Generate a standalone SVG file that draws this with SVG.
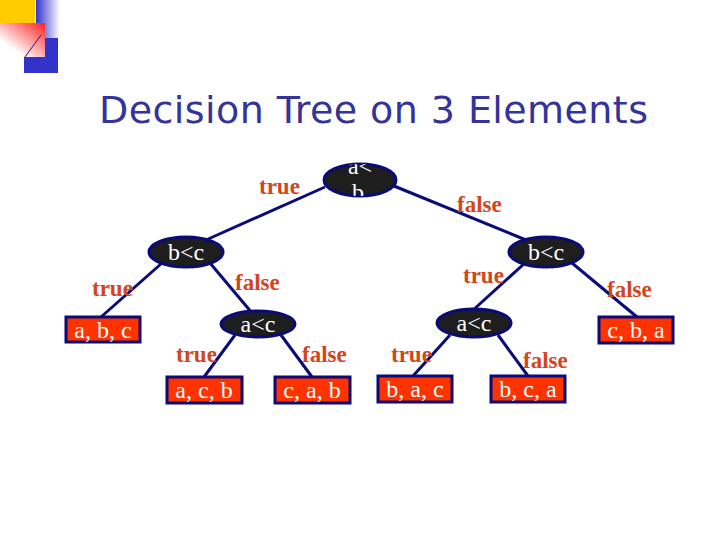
<svg xmlns="http://www.w3.org/2000/svg" width="720" height="540" viewBox="0 0 720 540">
<defs>
<linearGradient id="gBlue" x1="0" y1="0" x2="1" y2="0">
<stop offset="0" stop-color="#3333cc"/>
<stop offset="1" stop-color="#ffffff"/>
</linearGradient>
<linearGradient id="gRed" x1="1" y1="0" x2="0" y2="1">
<stop offset="0" stop-color="#ff2020"/>
<stop offset="0.75" stop-color="#ffffff"/>
</linearGradient>
<clipPath id="rootClip"><ellipse cx="360" cy="180" rx="36" ry="16"/></clipPath>
<style>
.dec{fill:#1e1e1e;stroke:#0a0a78;stroke-width:3}
.leaf{fill:#ff3300;stroke:#0a0a78;stroke-width:3}
.edge{stroke:#0a0a78;stroke-width:3;fill:none}
.nt{font-family:"Liberation Serif",serif;font-size:24px;fill:#ffffff;text-anchor:middle}
.lbl{font-family:"Liberation Serif",serif;font-size:23px;font-weight:bold;fill:#d2461e}
.title{font-family:"DejaVu Sans",sans-serif;font-size:38px;fill:#333399}
</style>
</defs>
<rect width="720" height="540" fill="#ffffff"/>
<g id="logo">
<rect x="0" y="0" width="35" height="23" fill="#ffcc00"/>
<rect x="36" y="0" width="24" height="38" fill="url(#gBlue)"/>
<rect x="24" y="38" width="34" height="35" fill="#3333cc"/>
<rect x="0" y="23" width="45" height="34" fill="url(#gRed)"/>
<line x1="25" y1="57" x2="41" y2="35" stroke="#301060" stroke-width="1"/>
</g>
<text class="title" x="99" y="123" textLength="549" lengthAdjust="spacing">Decision Tree on 3 Elements</text>
<g id="connectors">
<line class="edge" x1="325" y1="187" x2="206" y2="240"/>
<line class="edge" x1="394" y1="186" x2="526" y2="240"/>
<line class="edge" x1="162" y1="263" x2="101" y2="317"/>
<line class="edge" x1="210" y1="263" x2="252" y2="313"/>
<line class="edge" x1="525" y1="263" x2="472" y2="311"/>
<line class="edge" x1="572" y1="263" x2="637" y2="317"/>
<line class="edge" x1="235" y1="335" x2="204" y2="377"/>
<line class="edge" x1="281" y1="335" x2="312" y2="377"/>
<line class="edge" x1="450" y1="335" x2="413" y2="376"/>
<line class="edge" x1="498" y1="335" x2="528" y2="376"/>
</g>
<g id="root">
<ellipse class="dec" cx="360" cy="180" rx="36" ry="16"/>
<g clip-path="url(#rootClip)">
<text class="nt" x="360" y="174">a&lt;</text>
<text class="nt" x="358" y="200">b</text>
</g>
</g>
<g id="bc-left">
<ellipse class="dec" cx="186" cy="252" rx="37" ry="15"/>
<text class="nt" x="186" y="260">b&lt;c</text>
</g>
<g id="bc-right">
<ellipse class="dec" cx="546" cy="252" rx="37" ry="15"/>
<text class="nt" x="546" y="260">b&lt;c</text>
</g>
<g id="ac-left">
<ellipse class="dec" cx="258" cy="324" rx="37" ry="13"/>
<text class="nt" x="258" y="332">a&lt;c</text>
</g>
<g id="ac-right">
<ellipse class="dec" cx="474" cy="323" rx="37" ry="14"/>
<text class="nt" x="474" y="331">a&lt;c</text>
</g>
<g id="leaf-abc">
<rect class="leaf" x="66" y="317" width="74" height="25"/>
<text class="nt" x="103" y="338">a, b, c</text>
</g>
<g id="leaf-cba">
<rect class="leaf" x="599" y="317" width="74" height="26"/>
<text class="nt" x="636" y="338">c, b, a</text>
</g>
<g id="leaf-acb">
<rect class="leaf" x="167" y="377" width="75" height="26"/>
<text class="nt" x="204" y="398">a, c, b</text>
</g>
<g id="leaf-cab">
<rect class="leaf" x="275" y="377" width="75" height="26"/>
<text class="nt" x="312" y="398">c, a, b</text>
</g>
<g id="leaf-bac">
<rect class="leaf" x="378" y="376" width="74" height="26"/>
<text class="nt" x="415" y="397">b, a, c</text>
</g>
<g id="leaf-bca">
<rect class="leaf" x="491" y="376" width="74" height="26"/>
<text class="nt" x="528" y="397">b, c, a</text>
</g>
<g id="labels">
<text class="lbl" x="259" y="194">true</text>
<text class="lbl" x="457" y="212">false</text>
<text class="lbl" x="92" y="296">true</text>
<text class="lbl" x="235" y="290">false</text>
<text class="lbl" x="463" y="283">true</text>
<text class="lbl" x="607" y="297">false</text>
<text class="lbl" x="176" y="362">true</text>
<text class="lbl" x="302" y="362">false</text>
<text class="lbl" x="391" y="362">true</text>
<text class="lbl" x="523" y="368">false</text>
</g>
</svg>
